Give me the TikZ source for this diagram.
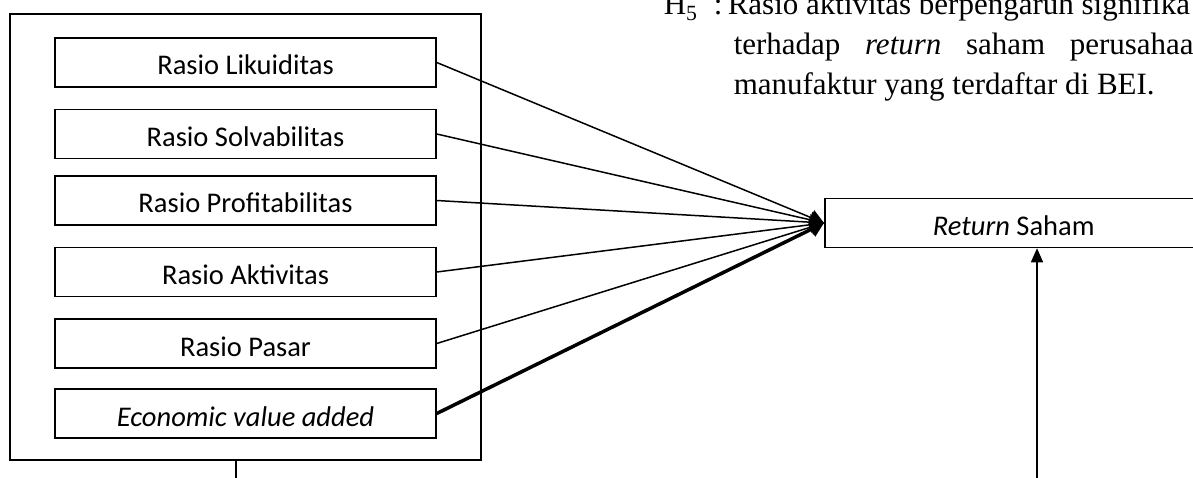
\documentclass[tikz,border=0pt]{standalone}
\usepackage{fontspec}
\setmainfont{Liberation Serif}
\newfontfamily\calib{Carlito}
\usetikzlibrary{arrows.meta, positioning, calc}

\begin{document}
\begin{tikzpicture}[x=1pt, y=-1pt, line width=1.5pt,
  ratiobox/.style={draw, minimum width=381pt, minimum height=49pt, inner sep=0pt,
    text height=25pt, text depth=0pt, font=\calib\fontsize{28.5}{34}\selectfont},
  hyp/.style={anchor=base west, inner sep=0pt, font=\fontsize{31}{40}\selectfont},
  toret/.style={-{Triangle[length=14pt,width=16pt]}}]
\clip (0,0) rectangle (1193,478);

% outer frame
\node[draw, minimum width=471pt, minimum height=446pt, inner sep=0pt] (frame) at (245.5,237) {};

% independent variables
\foreach \n/\y/\txt in {liq/62.5/Rasio Likuiditas, sol/134/Rasio Solvabilitas,
    pro/200.5/Rasio Profitabilitas, akt/272/Rasio Aktivitas, pas/343.5/Rasio Pasar} {
  \node[ratiobox] (\n) at (245.5,\y) {\txt};
}
\node[ratiobox] (eva) at (245.5,413.5) {\textit{Economic value added}};

% dependent variable
\node[ratiobox, minimum width=378pt, anchor=west] (ret) at (824,223) {\textit{Return} Saham};

% paths
\foreach \n in {liq,sol,pro,akt,pas} {
  \draw[toret] (\n.east) -- (ret.west);
}
\draw[toret, line width=3.5pt] (eva.east) -- (ret.west);

\coordinate (lowL) at (236,478);
\coordinate (lowR) at (1037,478);
\draw (frame.south -| lowL) -- (lowL);
\draw[-{Triangle[length=14pt,width=12pt]}] (lowR) -- (lowR |- ret.south);

% hypothesis text
\node[hyp] (h5) at (663,15) {H\textsubscript{5}};
\node[hyp] (h5c) at (713,15) {:};
\node[hyp] (hl1) at (727,15) {Rasio aktivitas berpengaruh signifika};
\node[hyp] (hl2) at (733,55) {\makebox[460pt][s]{terhadap \textit{return} saham perusahaa}};
\node[hyp] (hl3) at (733,95) {manufaktur yang terdaftar di BEI.};
\end{tikzpicture}
\end{document}
